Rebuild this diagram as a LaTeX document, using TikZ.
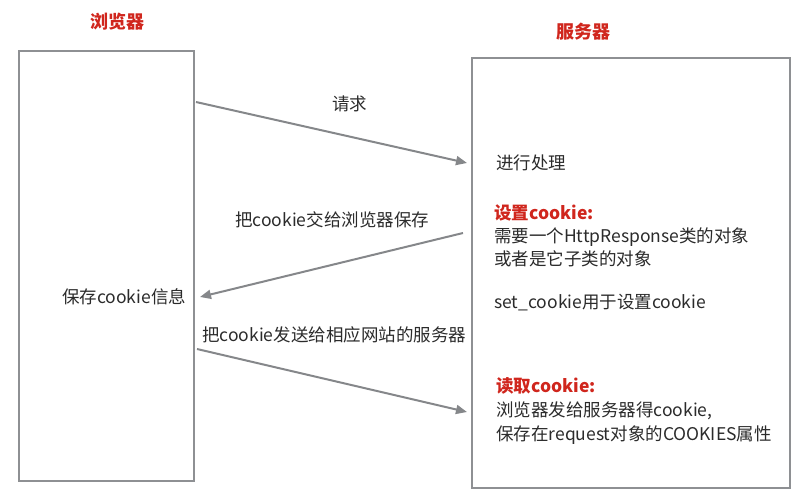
\documentclass[tikz,border=0pt]{standalone}
\usepackage{fontspec}
\setmainfont{Noto Sans CJK SC}
\usetikzlibrary{arrows.meta}
\definecolor{boxgray}{HTML}{8E9093}
\definecolor{arrgray}{HTML}{85878A}
\definecolor{titlered}{HTML}{D0261D}
\definecolor{txt}{HTML}{2B2B2B}
\tikzset{
  panel/.style={draw=boxgray, line width=2.4pt, fill=white, inner sep=0pt},
  msg/.style={draw=arrgray, line width=2pt, -{Triangle[length=11pt,width=9pt]}},
  lbl/.style={font=\fontsize{17.5}{21}\selectfont, text=txt, inner sep=0pt, anchor=base west},
  redlbl/.style={lbl, text=titlered, font=\fontsize{17.5}{21}\selectfont\bfseries},
  ttl/.style={font=\fontsize{18}{21}\selectfont\bfseries, text=titlered, inner sep=0pt, anchor=base}
}
\begin{document}
\begin{tikzpicture}[x=1pt,y=-1pt]
\useasboundingbox (0,0) rectangle (809,501);
% boxes
\node[panel, minimum width=175pt, minimum height=430pt] (browser) at (106.5,266) {};
\node[panel, minimum width=318pt, minimum height=430pt] (server) at (631,273) {};
% titles
\node[ttl] (tb) at (117,28) {浏览器};
\node[ttl] (ts) at (583,38) {服务器};
% arrow endpoints
\coordinate (a1s) at (196,102);
\coordinate (a1e) at (467,163);
\coordinate (a2s) at (463,233);
\coordinate (a2e) at (200,297);
\coordinate (a3s) at (197,349);
\coordinate (a3e) at (467,412);
\draw[msg] (a1s) -- (a1e);
\draw[msg] (a2s) -- (a2e);
\draw[msg] (a3s) -- (a3e);
% arrow labels
\node[lbl] (l1) at (332,110) {请求};
\node[lbl] (l2) at (235,226) {把cookie交给浏览器保存};
\node[lbl] (l3) at (202,341) {把cookie发送给相应网站的服务器};
\node[lbl] (l4) at (62,303) {保存cookie信息};
% server texts
\node[lbl] (s1) at (496,169) {进行处理};
\node[redlbl] (s2) at (494,219) {设置cookie:};
\node[lbl] (s3) at (494,242) {需要一个HttpResponse类的对象};
\node[lbl] (s4) at (494,265) {或者是它子类的对象};
\node[lbl] (s5) at (494,308) {set\_cookie用于设置cookie};
\node[redlbl] (s6) at (496,392) {读取cookie:};
\node[lbl] (s7) at (496,416) {浏览器发给服务器得cookie,};
\node[lbl] (s8) at (496,440) {保存在request对象的COOKIES属性};
\end{tikzpicture}
\end{document}
